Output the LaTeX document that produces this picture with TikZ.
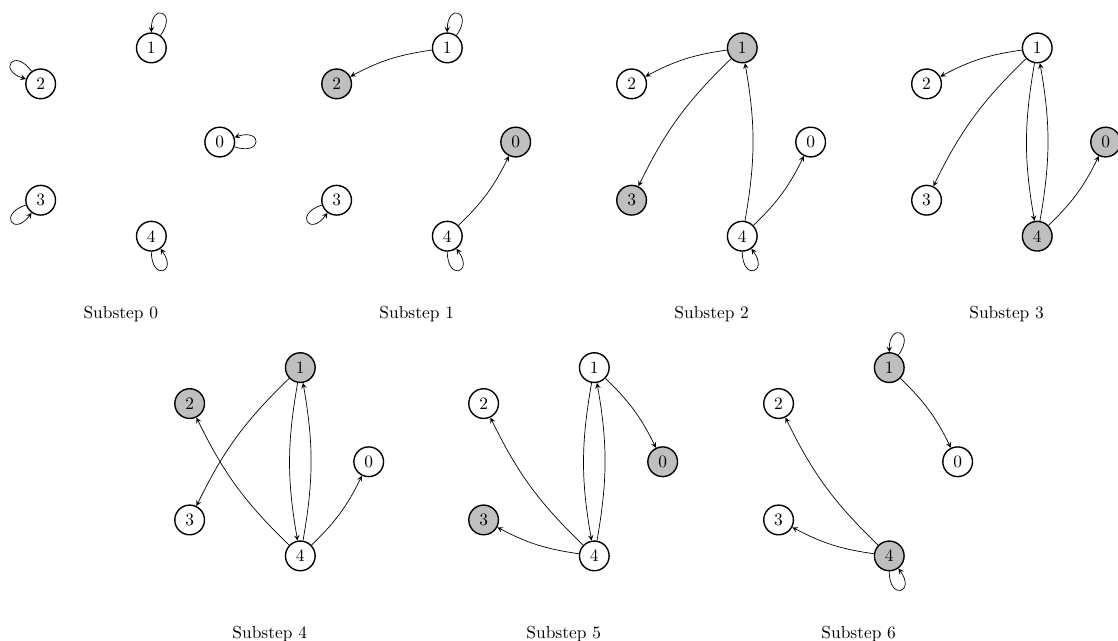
\documentclass[tikz,border=0pt]{standalone}
\usetikzlibrary{calc}

\tikzset{
  >=stealth,
  vnode/.style={circle,draw,thick,fill=white,minimum size=6mm,inner sep=0pt},
  vgray/.style={vnode,fill=black!25},
  caption/.style={anchor=base},
  tr/.style={bend right=10},
  tl/.style={bend left=10},
  l0/.style={out=-18,in=18,min distance=6mm},
  l1/.style={out=54,in=90,min distance=6mm},
  l2/.style={out=126,in=162,min distance=6mm},
  l3/.style={out=198,in=234,min distance=6mm},
  l4/.style={out=270,in=306,min distance=6mm}
}

% one substep: name prefix, centre, caption, index/style list
\newcommand{\substep}[4]{%
  \begin{scope}[shift={(#2)}]
    \foreach \i/\s in {#4}
      \node[\s] (#1\i) at (\i*72:2) {\i};
    \node[caption] (#1c) at (0,-3.57) {#3};
  \end{scope}}

\begin{document}
\begin{tikzpicture}
  \useasboundingbox (0,0) rectangle (22.59,-12.95);
  \substep{a}{2.44,-2.87}{Substep 0}{0/vnode,1/vnode,2/vnode,3/vnode,4/vnode}
  \substep{b}{8.42,-2.87}{Substep 1}{0/vgray,1/vnode,2/vgray,3/vnode,4/vnode}
  \substep{c}{14.38,-2.87}{Substep 2}{0/vnode,1/vgray,2/vnode,3/vgray,4/vnode}
  \substep{d}{20.34,-2.87}{Substep 3}{0/vgray,1/vnode,2/vnode,3/vnode,4/vgray}
  \substep{e}{5.45,-9.33}{Substep 4}{0/vnode,1/vgray,2/vgray,3/vnode,4/vnode}
  \substep{f}{11.39,-9.33}{Substep 5}{0/vgray,1/vnode,2/vnode,3/vgray,4/vnode}
  \substep{g}{17.35,-9.33}{Substep 6}{0/vnode,1/vgray,2/vnode,3/vnode,4/vgray}

  \draw[->] (a0) to[l0] (a0);
  \draw[->] (a1) to[l1] (a1);
  \draw[->] (a2) to[l2] (a2);
  \draw[->] (a3) to[l3] (a3);
  \draw[->] (a4) to[l4] (a4);

  \draw[->] (b1) to[l1] (b1);
  \draw[->] (b3) to[l3] (b3);
  \draw[->] (b4) to[l4] (b4);
  \draw[->] (b1) to[tr] (b2);
  \draw[->] (b4) to[tr] (b0);

  \draw[->] (c4) to[l4] (c4);
  \draw[->] (c1) to[tr] (c2);
  \draw[->] (c1) to[tr] (c3);
  \draw[->] (c4) to[tr] (c1);
  \draw[->] (c4) to[tr] (c0);

  \draw[->] (d1) to[tr] (d2);
  \draw[->] (d1) to[tr] (d3);
  \draw[->] (d1) to[tr] (d4);
  \draw[->] (d4) to[tr] (d1);
  \draw[->] (d4) to[tr] (d0);

  \draw[->] (e1) to[tr] (e3);
  \draw[->] (e1) to[tr] (e4);
  \draw[->] (e4) to[tr] (e1);
  \draw[->] (e4) to[tl] (e2);
  \draw[->] (e4) to[tr] (e0);

  \draw[->] (f1) to[tr] (f4);
  \draw[->] (f4) to[tr] (f1);
  \draw[->] (f1) to[tl] (f0);
  \draw[->] (f4) to[tl] (f2);
  \draw[->] (f4) to[tl] (f3);

  \draw[->] (g1) to[l1] (g1);
  \draw[->] (g4) to[l4] (g4);
  \draw[->] (g1) to[tl] (g0);
  \draw[->] (g4) to[tl] (g2);
  \draw[->] (g4) to[tl] (g3);
\end{tikzpicture}
\end{document}
